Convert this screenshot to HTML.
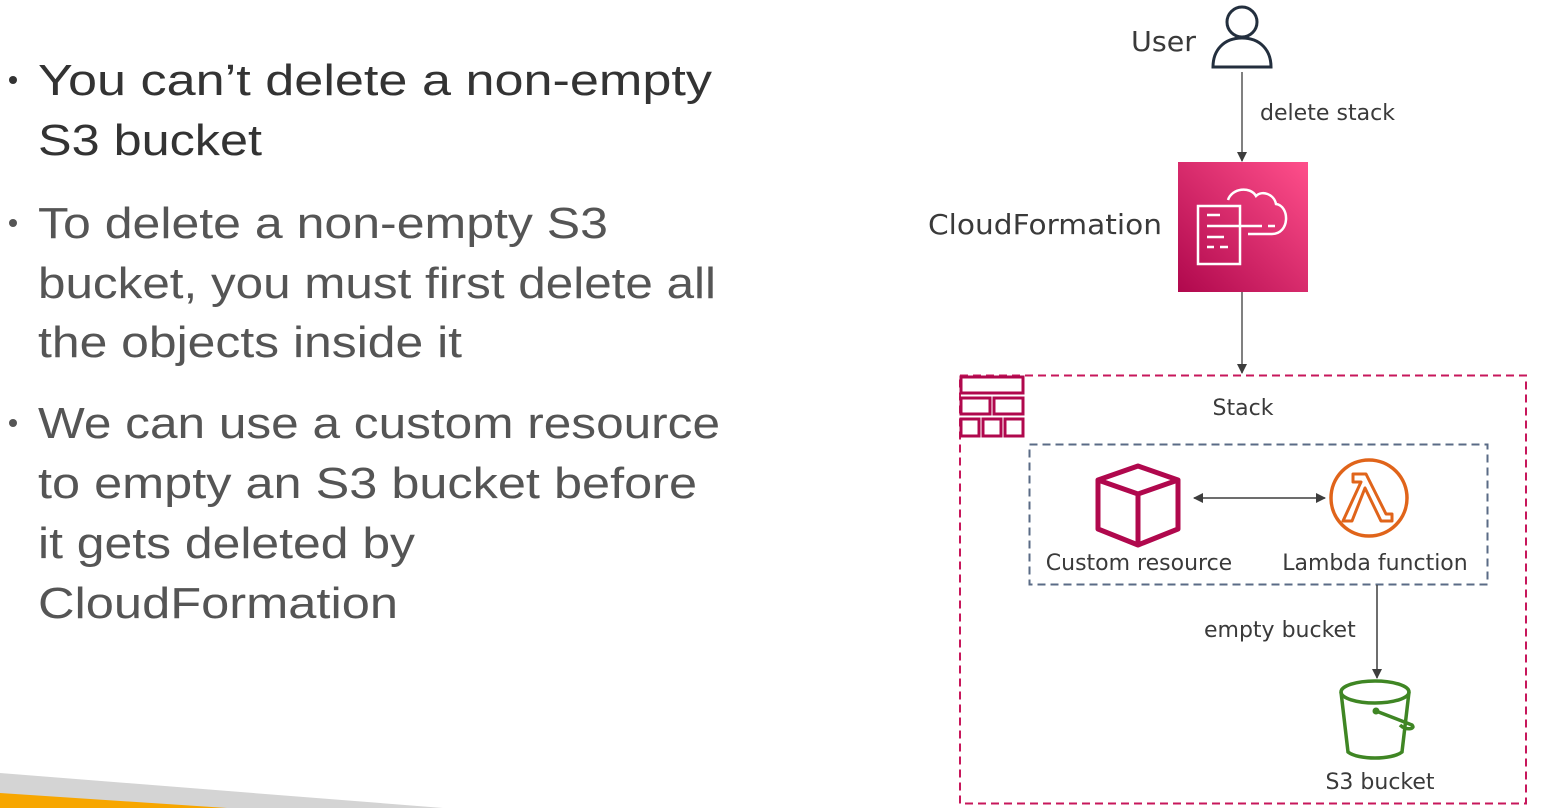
<!DOCTYPE html>
<html><head><meta charset="utf-8"><style>
html,body{margin:0;padding:0;background:#fff;width:1555px;height:808px;overflow:hidden}
svg{display:block}
.l{font-family:"Liberation Sans",sans-serif;font-size:44px;fill:#555}
.d{font-family:"DejaVu Sans","Liberation Sans",sans-serif;fill:#3a3a3a}
</style></head><body>
<svg width="1555" height="808" viewBox="0 0 1555 808" xmlns="http://www.w3.org/2000/svg">
<defs>
<linearGradient id="cf" x1="0" y1="1" x2="1" y2="0"><stop offset="0" stop-color="#b0084d"/><stop offset="1" stop-color="#ff4f8b"/></linearGradient>
<marker id="ah" markerWidth="10" markerHeight="10" refX="9" refY="5" orient="auto" markerUnits="userSpaceOnUse"><path d="M0,0 L10,5 L0,10z" fill="#3d3d3d"/></marker>
<marker id="as" markerWidth="10" markerHeight="10" refX="1" refY="5" orient="auto" markerUnits="userSpaceOnUse"><path d="M10,0 L0,5 L10,10z" fill="#3d3d3d"/></marker>
</defs>
<polygon points="0,773 443,808 0,808" fill="#d4d4d4"/>
<polygon points="0,793 227,808 0,808" fill="#f7a600"/>
<g fill="#555"><circle cx="13" cy="80" r="4" fill="#333"/><circle cx="13" cy="223" r="4"/><circle cx="13" cy="423" r="4"/></g>
<text class="l" x="38" y="95" textLength="674" lengthAdjust="spacingAndGlyphs" style="fill:#333">You can’t delete a non-empty</text>
<text class="l" x="38" y="155" textLength="224" lengthAdjust="spacingAndGlyphs" style="fill:#333">S3 bucket</text>
<text class="l" x="38" y="238" textLength="570" lengthAdjust="spacingAndGlyphs">To delete a non-empty S3</text>
<text class="l" x="38" y="298" textLength="678" lengthAdjust="spacingAndGlyphs">bucket, you must first delete all</text>
<text class="l" x="38" y="357" textLength="424" lengthAdjust="spacingAndGlyphs">the objects inside it</text>
<text class="l" x="38" y="438" textLength="682" lengthAdjust="spacingAndGlyphs">We can use a custom resource</text>
<text class="l" x="38" y="498" textLength="659" lengthAdjust="spacingAndGlyphs">to empty an S3 bucket before</text>
<text class="l" x="38" y="558" textLength="377" lengthAdjust="spacingAndGlyphs">it gets deleted by</text>
<text class="l" x="38" y="618" textLength="360" lengthAdjust="spacingAndGlyphs">CloudFormation</text>

<text class="d" x="1131" y="51" font-size="28" textLength="65" lengthAdjust="spacingAndGlyphs">User</text>
<g fill="none" stroke="#232f3e" stroke-width="3"><circle cx="1242" cy="22" r="15"/><path d="M1213,67 L1271,67 C1271,50 1260,38 1242,38 C1224,38 1213,50 1213,67z"/></g>
<line x1="1242" y1="72" x2="1242" y2="161" stroke="#555" stroke-width="1.5" marker-end="url(#ah)"/>
<text class="d" x="1260" y="120" font-size="22" textLength="135" lengthAdjust="spacingAndGlyphs">delete stack</text>
<rect x="1178" y="162" width="130" height="130" fill="url(#cf)"/>
<g fill="none" stroke="#fff" stroke-width="2.5"><rect x="1198" y="206" width="42" height="58"/><path d="M1228,200 C1232,188 1250,186 1256,196 C1262,190 1274,194 1276,204 C1290,206 1290,234 1272,234 L1248,234"/><path d="M1207,215 L1220,215 M1207,226 L1262,226 M1268,226 L1275,226 M1207,237 L1224,237 M1207,247 L1214,247 M1220,247 L1228,247"/></g>
<text class="d" x="928" y="234" font-size="28" textLength="234" lengthAdjust="spacingAndGlyphs">CloudFormation</text>
<line x1="1242" y1="292" x2="1242" y2="373" stroke="#555" stroke-width="1.5" marker-end="url(#ah)"/>
<rect x="960" y="375.5" width="566" height="428" fill="none" stroke="#c7175b" stroke-width="2" stroke-dasharray="8,5"/>
<g fill="none" stroke="#b0084d" stroke-width="3"><rect x="961" y="377" width="62" height="16"/><rect x="961" y="398" width="29" height="16"/><rect x="994" y="398" width="29" height="16"/><rect x="961" y="419" width="18" height="17"/><rect x="983" y="419" width="18" height="17"/><rect x="1005" y="419" width="18" height="17"/></g>
<text class="d" x="1243" y="415" font-size="22" text-anchor="middle">Stack</text>
<rect x="1029.5" y="444.5" width="458" height="140" fill="none" stroke="#5a6b86" stroke-width="2" stroke-dasharray="8,5"/>
<g fill="none" stroke="#b0084d" stroke-width="5" stroke-linejoin="round"><path d="M1138,466 L1178,480 L1178,529 L1138,545 L1098,529 L1098,480z"/><path d="M1098,480 L1138,494 L1178,480 M1138,494 L1138,545"/></g>
<line x1="1194" y1="498" x2="1325" y2="498" stroke="#3d3d3d" stroke-width="1.5" marker-end="url(#ah)" marker-start="url(#as)"/>
<circle cx="1369" cy="498" r="38" fill="none" stroke="#e0641a" stroke-width="3.5"/>
<path d="M1353,474 L1366,474 L1386,514 L1392,514 L1392,521 L1381,521 L1365,488 L1352,521 L1343,521 L1361,482 L1353,482z" fill="none" stroke="#e0641a" stroke-width="3" stroke-linejoin="round"/>
<text class="d" x="1139" y="570" font-size="22" text-anchor="middle">Custom resource</text>
<text class="d" x="1375" y="570" font-size="22" text-anchor="middle">Lambda function</text>
<line x1="1377" y1="585" x2="1377" y2="678" stroke="#3d3d3d" stroke-width="1.5" marker-end="url(#ah)"/>
<text class="d" x="1204" y="637" font-size="22">empty bucket</text>
<g fill="none" stroke="#3f8624" stroke-width="3.5"><ellipse cx="1375" cy="692" rx="34" ry="11"/><path d="M1341,692 L1348,752 C1358,760 1392,760 1402,752 L1409,692"/><path d="M1376,711 L1412,725 C1416,729 1406,731 1400,725"/></g>
<circle cx="1376" cy="711" r="3.5" fill="#3f8624"/>
<text class="d" x="1380" y="789" font-size="22" text-anchor="middle">S3 bucket</text>
</svg>
</body></html>
